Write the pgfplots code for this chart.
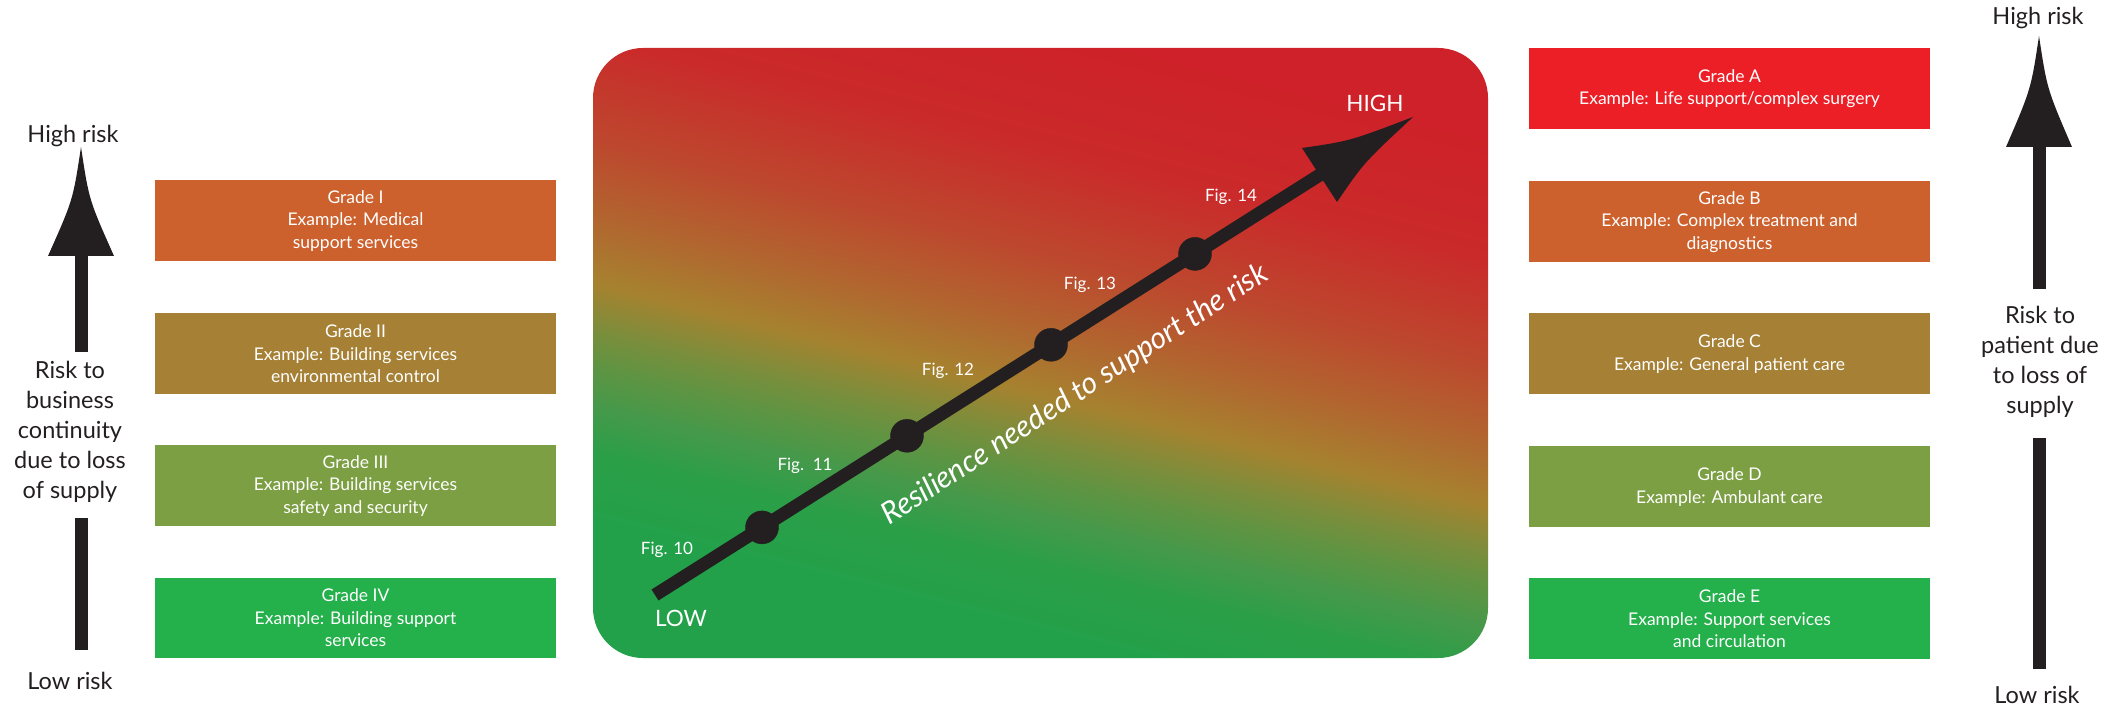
\documentclass[border=0pt]{standalone}
\usepackage{pgfplots}
\pgfplotsset{compat=1.18}
\usepackage{fontspec}
\setmainfont{Lato}

\definecolor{ink}{HTML}{231F20}
\definecolor{gA}{HTML}{EC1F27}
\definecolor{gB}{HTML}{CD612D}
\definecolor{gC}{HTML}{A58035}
\definecolor{gD}{HTML}{7C9F43}
\definecolor{gE}{HTML}{24B04B}
% gradient stops
\definecolor{sG0}{HTML}{22A14A}
\definecolor{sG1}{HTML}{2A9F48}
\definecolor{sG2}{HTML}{45994A}
\definecolor{sOg}{HTML}{5F9442}
\definecolor{sOl}{HTML}{7A8E3C}
\definecolor{sGd}{HTML}{A6822F}
\definecolor{sOr}{HTML}{B2642F}
\definecolor{sBr}{HTML}{BD472E}
\definecolor{sRd}{HTML}{CA2A2A}
\definecolor{sRt}{HTML}{CE2129}

\pgfdeclareverticalshading{riskgrad}{100bp}{%
  color(0bp)=(sG0); color(29bp)=(sG0); color(34.5bp)=(sG1);
  color(38bp)=(sG2); color(41bp)=(sOg); color(43.5bp)=(sOl);
  color(47bp)=(sGd); color(52bp)=(sOr); color(57.5bp)=(sBr);
  color(65bp)=(sRd); color(74bp)=(sRt); color(100bp)=(sRt)}

\newcommand{\boxfont}{\fontsize{17.5}{22.5}\selectfont}
\newcommand{\sidefont}{\fontsize{23.5}{30}\selectfont}

\begin{document}
\begin{tikzpicture}
\useasboundingbox (0,0) rectangle (2116pt,708pt);
\begin{axis}[
    at={(0,0)}, anchor=south west,
    width=2116pt, height=708pt, scale only axis,
    xmin=0, xmax=2116, ymin=0, ymax=708,
    y dir=reverse,
    hide axis,
]
% background panel
\shade[shading=riskgrad, shading angle=-14, rounded corners=50pt]
    (593,48) rectangle (1488,658);

% grade boxes, left column (business continuity)
\fill[gB] (155,180) rectangle (556,261);
\fill[gC] (155,313) rectangle (556,394);
\fill[gD] (155,445) rectangle (556,526);
\fill[gE] (155,578) rectangle (556,658);
% right column (patient)
\fill[gA] (1529,48)  rectangle (1930,129);
\fill[gB] (1529,181) rectangle (1930,262);
\fill[gC] (1529,313) rectangle (1930,394);
\fill[gD] (1529,446) rectangle (1930,527);
\fill[gE] (1529,578) rectangle (1930,659);

% resilience arrow
\addplot[ink, line width=13pt, forget plot] coordinates {(655,595) (1322,173.5)};
\addplot[only marks, mark=*, mark size=16.5pt, ink, forget plot]
    coordinates {(762,527.4) (907,435.8) (1051,344.8) (1195,253.9)};
\fill[ink] (1302,148) .. controls (1350,141) .. (1413,117)
    .. controls (1364,162.5) .. (1337,202) -- cycle;

% side arrows
\addplot[ink, line width=13pt, forget plot] coordinates {(81,256) (81,352)};
\addplot[ink, line width=13pt, forget plot] coordinates {(81,518) (81,650)};
\fill[ink] (81,147) .. controls (89,200) .. (114,256) -- (48,256)
    .. controls (73,200) .. (81,147) -- cycle;
\addplot[ink, line width=13pt, forget plot] coordinates {(2039,147) (2039,289)};
\addplot[ink, line width=13pt, forget plot] coordinates {(2039,438) (2039,669)};
\fill[ink] (2039,36) .. controls (2047,89) .. (2072,147) -- (2006,147)
    .. controls (2031,89) .. (2039,36) -- cycle;

% side texts
\node[anchor=base, text=ink, font=\sidefont] at (73,143) {High risk};
\node[anchor=base, text=ink, font=\sidefont] at (70,689) {Low risk};
\node[align=center, text=ink, font=\sidefont] at (70,432)
    {Risk to\\business\\continuity\\due to loss\\of supply};
\node[anchor=base, text=ink, font=\sidefont] at (2038,25) {High risk};
\node[anchor=base, text=ink, font=\sidefont] at (2037,703) {Low risk};
\node[align=center, text=ink, font=\sidefont] at (2040,362)
    {Risk to\\patient due\\to loss of\\supply};

% box texts
\tikzset{gtxt/.style={align=center, text=white, font=\boxfont}}
\node[gtxt] at (355.5,221) {Grade I\\Example: Medical\\support services};
\node[gtxt] at (355.5,354) {Grade II\\Example: Building services\\environmental control};
\node[gtxt] at (355.5,486) {Grade III\\Example: Building services\\safety and security};
\node[gtxt] at (355.5,618) {Grade IV\\Example: Building support\\services};
\node[gtxt] at (1729.5,88.5) {Grade A\\Example: Life support/complex surgery};
\node[gtxt] at (1729.5,222) {Grade B\\Example: Complex treatment and\\diagnostics};
\node[gtxt] at (1729.5,354) {Grade C\\Example: General patient care};
\node[gtxt] at (1729.5,487) {Grade D\\Example: Ambulant care};
\node[gtxt] at (1729.5,619) {Grade E\\Example: Support services\\and circulation};

% panel texts
\node[text=white, font=\fontsize{22.5}{27}\selectfont] at (1375,103) {HIGH};
\node[text=white, font=\fontsize{22.5}{27}\selectfont] at (681,618) {LOW};
\tikzset{ftxt/.style={text=white, font=\fontsize{17}{20}\selectfont}}
\node[ftxt] at (667,550) {Fig. 10};
\node[ftxt] at (805,466) {Fig.\ \ 11};
\node[ftxt] at (948,371) {Fig. 12};
\node[ftxt] at (1090,285) {Fig. 13};
\node[ftxt] at (1231,197) {Fig. 14};
\node[text=white, rotate=33, font=\itshape\fontsize{30}{34}\selectfont]
    at (1075,395) {Resilience needed to support the risk};
\end{axis}
\end{tikzpicture}
\end{document}
